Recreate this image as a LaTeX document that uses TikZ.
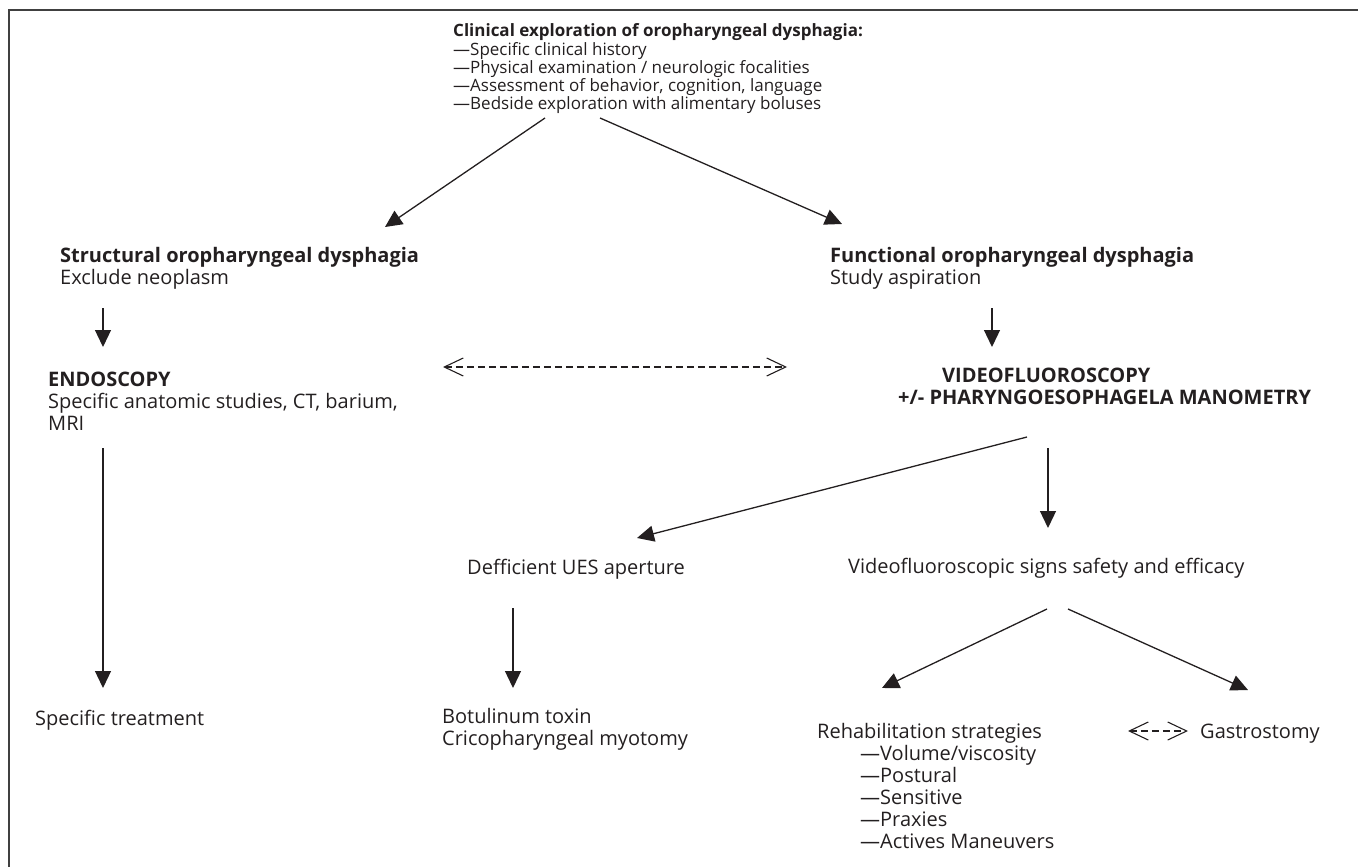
\documentclass[tikz,border=0pt]{standalone}
\usepackage{fontspec}
\setmainfont{Open Sans}
\usetikzlibrary{arrows.meta,calc}
\definecolor{ink}{HTML}{231F20}
\newcommand\stk[1]{\vtop{\halign{##\hfil\cr#1\crcr}}}
\begin{document}
\begin{tikzpicture}[x=1pt,y=-1pt,
  txt/.style={anchor=base west,inner sep=0pt,text=ink,font=\fontsize{20}{22}\selectfont},
  small/.style={txt,font=\fontsize{17}{18.2}\selectfont},
  arr/.style={draw=ink,line width=1.3pt,-{Triangle[length=17pt,width=16pt]}},
  darr/.style={draw=ink,line width=1.1pt,dash pattern=on 7pt off 4pt,{Straight Barb[length=19pt,width=18pt]}-{Straight Barb[length=19pt,width=18pt]}}]
\useasboundingbox (0,0) rectangle (1358,867);
\draw[line width=2pt,black!75] (9,867) -- (9,10) -- (1358,10);

\node[small] (top) at (453,37) {\stk{\textbf{Clinical exploration of oropharyngeal dysphagia:}\cr
—Specific clinical history\cr
—Physical examination / neurologic focalities\cr
—Assessment of behavior, cognition, language\cr
—Bedside exploration with alimentary boluses}};

\node[txt] (struct) at (60,262) {\stk{\textbf{Structural oropharyngeal dysphagia}\cr Exclude neoplasm}};
\node[txt] (func) at (830,262) {\stk{\textbf{Functional oropharyngeal dysphagia}\cr Study aspiration}};
\node[txt] (endo) at (48,386) {\stk{\textbf{ENDOSCOPY}\cr Specific anatomic studies, CT, barium,\cr MRI}};
\node[txt] (video) at (898,382) {\stk{\hspace{44pt}\textbf{VIDEOFLUOROSCOPY}\cr \textbf{+/- PHARYNGOESOPHAGELA MANOMETRY}}};
\node[txt] (deff) at (467,574) {Defficient UES aperture};
\node[txt] (vsign) at (848,573) {Videofluoroscopic signs safety and efficacy};
\node[txt] (spec) at (35,725) {Specific treatment};
\node[txt] (botu) at (442,723) {\stk{Botulinum toxin\cr Cricopharyngeal myotomy}};
\node[txt] (rehab) at (817,738) {\stk{Rehabilitation strategies\cr
\hspace{43pt}—Volume/viscosity\cr
\hspace{43pt}—Postural\cr
\hspace{43pt}—Sensitive\cr
\hspace{43pt}—Praxies\cr
\hspace{43pt}—Actives Maneuvers}};
\node[txt] (gastro) at (1200,738) {Gastrostomy};

% connector end points
\coordinate (top-l) at (545,118);
\coordinate (top-r) at (600,118);
\coordinate (struct-in) at (385,227);
\coordinate (func-in) at (842,224);
\coordinate (struct-out) at (103,308);
\coordinate (endo-in) at (103,347);
\coordinate (func-out) at (992,308);
\coordinate (video-in) at (992,347);
\coordinate (endo-r) at (443,367);
\coordinate (video-l) at (787,367);
\coordinate (endo-out) at (103,448);
\coordinate (spec-in) at (103,688);
\coordinate (video-outl) at (1027,437);
\coordinate (deff-in) at (637,538);
\coordinate (video-out) at (1048,448);
\coordinate (vsign-in) at (1048,528);
\coordinate (deff-out) at (513,608);
\coordinate (botu-in) at (513,688);
\coordinate (vsign-outl) at (1047,609);
\coordinate (rehab-in) at (882,688);
\coordinate (vsign-outr) at (1068,609);
\coordinate (gastro-in) at (1248,690);
\coordinate (rehab-r) at (1128,731);
\coordinate (gastro-l) at (1188,731);

\draw[arr] (top-l) -- (struct-in);
\draw[arr] (top-r) -- (func-in);
\draw[arr] (struct-out) -- (endo-in);
\draw[arr] (func-out) -- (video-in);
\draw[darr] (endo-r) -- (video-l);
\draw[arr] (endo-out) -- (spec-in);
\draw[arr] (video-outl) -- (deff-in);
\draw[arr] (video-out) -- (vsign-in);
\draw[arr] (deff-out) -- (botu-in);
\draw[arr] (vsign-outl) -- (rehab-in);
\draw[arr] (vsign-outr) -- (gastro-in);
\draw[darr] (rehab-r) -- (gastro-l);
\end{tikzpicture}
\end{document}
